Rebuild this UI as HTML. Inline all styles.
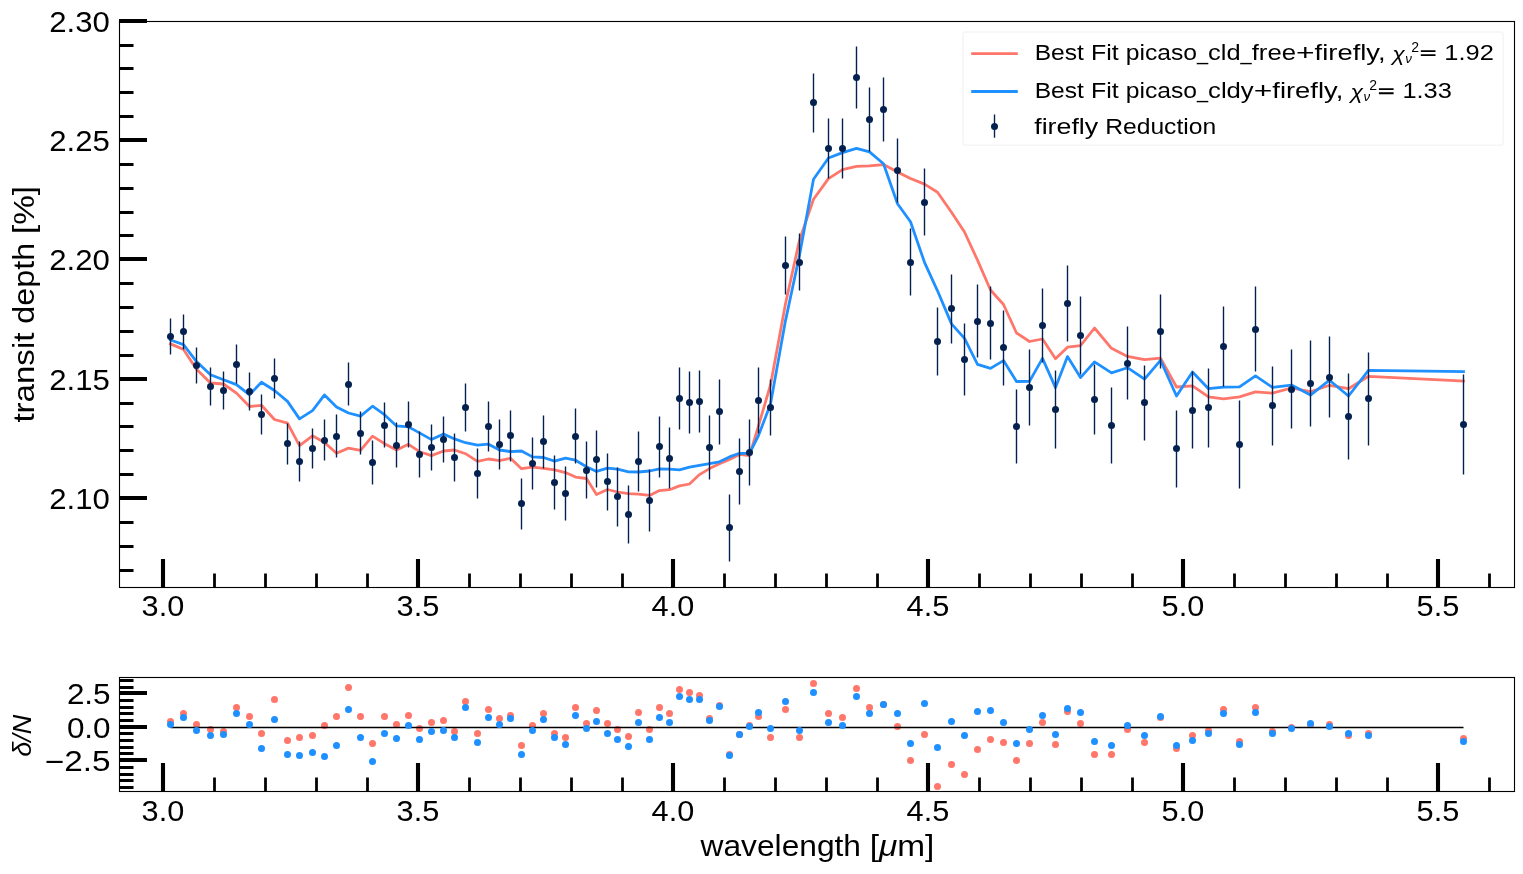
<!DOCTYPE html><html><head><meta charset="utf-8"><title>chart</title><style>html,body{margin:0;padding:0;background:#fff}svg{display:block;will-change:transform}</style></head><body><svg width="1523" height="874" viewBox="0 0 1523 874">
<rect width="1523" height="874" fill="#fff"/>
<g fill="none" stroke-width="2.78" stroke-linejoin="round" stroke-linecap="square">
<polyline stroke="#FF766A" points="170.5,343.9 183.5,349.4 196.5,369.2 210.5,383.0 223.5,384.0 236.5,393.1 249.5,406.5 261.5,405.3 274.5,419.5 287.5,423.2 299.5,445.7 312.5,435.8 324.5,442.5 336.5,453.2 348.5,448.1 360.5,450.4 372.5,436.1 384.5,443.7 396.5,450.1 408.5,444.3 419.5,451.7 431.5,455.6 443.5,451.0 454.5,450.0 465.5,453.7 477.5,461.3 488.5,459.0 499.5,460.6 510.5,458.2 521.5,468.7 532.5,467.1 543.5,468.4 554.5,469.8 565.5,472.6 575.5,477.1 586.5,478.5 596.5,494.5 607.5,489.5 617.5,492.0 628.5,493.7 638.5,494.2 649.5,495.4 659.5,490.6 669.5,489.7 679.5,485.9 689.5,484.0 699.5,474.6 709.5,468.6 719.5,463.8 729.5,459.4 739.5,454.4 749.5,455.6 758.5,425.8 770.5,384.9 785.5,303.8 799.5,240.1 813.5,199.3 828.5,178.6 842.5,169.6 856.5,166.4 869.5,165.9 883.5,164.6 897.5,172.0 910.5,178.5 924.5,184.1 937.5,192.3 951.5,212.2 964.5,232.0 977.5,260.2 990.5,290.0 1003.5,304.5 1016.5,333.0 1029.5,341.5 1042.5,339.0 1055.5,358.7 1067.5,347.2 1080.5,345.6 1094.5,328.0 1111.5,348.3 1127.5,356.4 1144.5,359.6 1160.5,358.1 1176.5,387.0 1192.5,385.8 1208.5,396.9 1223.5,398.8 1239.5,396.8 1255.5,391.8 1272.5,393.2 1291.5,388.0 1310.5,391.7 1329.5,385.3 1348.5,388.7 1368.5,376.3 1463.5,381.0"/>
<polyline stroke="#1E90FF" points="170.5,340.0 183.5,344.6 196.5,361.6 210.5,374.8 223.5,379.8 236.5,384.6 249.5,394.8 261.5,382.3 274.5,390.5 287.5,401.4 299.5,418.9 312.5,410.6 324.5,394.9 336.5,407.0 348.5,413.0 360.5,416.1 372.5,406.2 384.5,414.7 396.5,425.9 408.5,426.9 419.5,432.9 431.5,439.6 443.5,434.0 454.5,438.9 465.5,442.7 477.5,445.2 488.5,444.2 499.5,450.0 510.5,451.6 521.5,451.0 532.5,456.9 543.5,457.5 554.5,461.1 565.5,458.1 575.5,460.2 586.5,466.8 596.5,471.4 607.5,468.2 617.5,469.1 628.5,471.8 638.5,472.0 649.5,471.0 659.5,468.9 669.5,469.1 679.5,469.9 689.5,467.2 699.5,465.3 709.5,463.6 719.5,461.8 729.5,456.9 739.5,453.3 749.5,453.3 758.5,435.5 770.5,404.1 785.5,320.6 799.5,255.3 813.5,179.2 828.5,158.0 842.5,152.6 856.5,148.4 869.5,151.9 883.5,163.8 897.5,203.7 910.5,221.8 924.5,262.3 937.5,290.8 951.5,323.9 964.5,338.4 977.5,364.4 990.5,368.4 1003.5,360.6 1016.5,381.5 1029.5,381.4 1042.5,358.4 1055.5,387.6 1067.5,356.6 1080.5,377.6 1094.5,361.9 1111.5,372.9 1127.5,367.7 1144.5,379.2 1160.5,360.3 1176.5,396.0 1192.5,372.0 1208.5,388.7 1223.5,387.1 1239.5,386.9 1255.5,375.8 1272.5,387.4 1291.5,385.1 1310.5,395.1 1329.5,380.2 1348.5,396.0 1368.5,370.3 1463.5,371.7"/>
</g>
<path d="M170.5 318.5V354.5M183.5 314.5V349.5M196.5 347.5V383.5M210.5 367.5V405.5M223.5 371.5V409.5M236.5 344.5V383.5M249.5 372.5V410.5M261.5 394.5V434.5M274.5 358.5V398.5M287.5 423.5V464.5M299.5 441.5V481.5M312.5 428.5V468.5M324.5 419.5V460.5M336.5 414.5V457.5M348.5 362.5V405.5M360.5 411.5V454.5M372.5 440.5V484.5M384.5 402.5V447.5M396.5 422.5V467.5M408.5 401.5V447.5M419.5 431.5V477.5M431.5 424.5V470.5M443.5 416.5V462.5M454.5 433.5V481.5M465.5 383.5V431.5M477.5 448.5V498.5M488.5 401.5V451.5M499.5 419.5V469.5M510.5 410.5V461.5M521.5 478.5V529.5M532.5 437.5V489.5M543.5 415.5V468.5M554.5 455.5V509.5M565.5 466.5V520.5M575.5 408.5V463.5M586.5 441.5V498.5M596.5 430.5V487.5M607.5 453.5V510.5M617.5 467.5V526.5M628.5 485.5V543.5M638.5 431.5V491.5M649.5 469.5V531.5M659.5 416.5V477.5M669.5 427.5V488.5M679.5 367.5V429.5M689.5 371.5V433.5M699.5 370.5V432.5M709.5 415.5V479.5M719.5 379.5V444.5M729.5 494.5V561.5M739.5 438.5V504.5M749.5 419.5V485.5M758.5 367.5V433.5M770.5 379.5V435.5M785.5 236.5V294.5M799.5 233.5V290.5M813.5 73.5V132.5M828.5 118.5V178.5M842.5 118.5V178.5M856.5 46.5V108.5M869.5 87.5V151.5M883.5 77.5V141.5M897.5 138.5V202.5M910.5 228.5V295.5M924.5 168.5V235.5M937.5 307.5V375.5M951.5 274.5V343.5M964.5 323.5V395.5M977.5 284.5V357.5M990.5 286.5V359.5M1003.5 310.5V385.5M1016.5 389.5V463.5M1029.5 349.5V425.5M1042.5 288.5V362.5M1055.5 370.5V448.5M1067.5 265.5V341.5M1080.5 296.5V374.5M1094.5 364.5V434.5M1111.5 387.5V463.5M1127.5 326.5V399.5M1144.5 365.5V440.5M1160.5 294.5V368.5M1176.5 410.5V487.5M1192.5 371.5V448.5M1208.5 368.5V447.5M1223.5 306.5V386.5M1239.5 400.5V488.5M1255.5 286.5V371.5M1272.5 366.5V445.5M1291.5 349.5V428.5M1310.5 340.5V426.5M1329.5 336.5V417.5M1348.5 373.5V459.5M1368.5 352.5V445.5M1463.5 374.5V474.5" stroke="#03204f" stroke-width="1.39" fill="none"/>
<g fill="#03204f"><circle cx="170.5" cy="336.5" r="3.5"/><circle cx="183.5" cy="331.5" r="3.5"/><circle cx="196.5" cy="365.5" r="3.5"/><circle cx="210.5" cy="386.5" r="3.5"/><circle cx="223.5" cy="390.5" r="3.5"/><circle cx="236.5" cy="364.5" r="3.5"/><circle cx="249.5" cy="391.5" r="3.5"/><circle cx="261.5" cy="414.5" r="3.5"/><circle cx="274.5" cy="378.5" r="3.5"/><circle cx="287.5" cy="443.5" r="3.5"/><circle cx="299.5" cy="461.5" r="3.5"/><circle cx="312.5" cy="448.5" r="3.5"/><circle cx="324.5" cy="440.5" r="3.5"/><circle cx="336.5" cy="436.5" r="3.5"/><circle cx="348.5" cy="384.5" r="3.5"/><circle cx="360.5" cy="433.5" r="3.5"/><circle cx="372.5" cy="462.5" r="3.5"/><circle cx="384.5" cy="425.5" r="3.5"/><circle cx="396.5" cy="445.5" r="3.5"/><circle cx="408.5" cy="424.5" r="3.5"/><circle cx="419.5" cy="454.5" r="3.5"/><circle cx="431.5" cy="447.5" r="3.5"/><circle cx="443.5" cy="439.5" r="3.5"/><circle cx="454.5" cy="457.5" r="3.5"/><circle cx="465.5" cy="407.5" r="3.5"/><circle cx="477.5" cy="473.5" r="3.5"/><circle cx="488.5" cy="426.5" r="3.5"/><circle cx="499.5" cy="444.5" r="3.5"/><circle cx="510.5" cy="435.5" r="3.5"/><circle cx="521.5" cy="503.5" r="3.5"/><circle cx="532.5" cy="463.5" r="3.5"/><circle cx="543.5" cy="441.5" r="3.5"/><circle cx="554.5" cy="482.5" r="3.5"/><circle cx="565.5" cy="493.5" r="3.5"/><circle cx="575.5" cy="436.5" r="3.5"/><circle cx="586.5" cy="470.5" r="3.5"/><circle cx="596.5" cy="459.5" r="3.5"/><circle cx="607.5" cy="481.5" r="3.5"/><circle cx="617.5" cy="496.5" r="3.5"/><circle cx="628.5" cy="514.5" r="3.5"/><circle cx="638.5" cy="461.5" r="3.5"/><circle cx="649.5" cy="500.5" r="3.5"/><circle cx="659.5" cy="446.5" r="3.5"/><circle cx="669.5" cy="458.5" r="3.5"/><circle cx="679.5" cy="398.5" r="3.5"/><circle cx="689.5" cy="402.5" r="3.5"/><circle cx="699.5" cy="401.5" r="3.5"/><circle cx="709.5" cy="447.5" r="3.5"/><circle cx="719.5" cy="411.5" r="3.5"/><circle cx="729.5" cy="527.5" r="3.5"/><circle cx="739.5" cy="471.5" r="3.5"/><circle cx="749.5" cy="452.5" r="3.5"/><circle cx="758.5" cy="400.5" r="3.5"/><circle cx="770.5" cy="407.5" r="3.5"/><circle cx="785.5" cy="265.5" r="3.5"/><circle cx="799.5" cy="262.5" r="3.5"/><circle cx="813.5" cy="102.5" r="3.5"/><circle cx="828.5" cy="148.5" r="3.5"/><circle cx="842.5" cy="148.5" r="3.5"/><circle cx="856.5" cy="77.5" r="3.5"/><circle cx="869.5" cy="119.5" r="3.5"/><circle cx="883.5" cy="109.5" r="3.5"/><circle cx="897.5" cy="170.5" r="3.5"/><circle cx="910.5" cy="262.5" r="3.5"/><circle cx="924.5" cy="202.5" r="3.5"/><circle cx="937.5" cy="341.5" r="3.5"/><circle cx="951.5" cy="308.5" r="3.5"/><circle cx="964.5" cy="359.5" r="3.5"/><circle cx="977.5" cy="321.5" r="3.5"/><circle cx="990.5" cy="323.5" r="3.5"/><circle cx="1003.5" cy="347.5" r="3.5"/><circle cx="1016.5" cy="426.5" r="3.5"/><circle cx="1029.5" cy="387.5" r="3.5"/><circle cx="1042.5" cy="325.5" r="3.5"/><circle cx="1055.5" cy="409.5" r="3.5"/><circle cx="1067.5" cy="303.5" r="3.5"/><circle cx="1080.5" cy="335.5" r="3.5"/><circle cx="1094.5" cy="399.5" r="3.5"/><circle cx="1111.5" cy="425.5" r="3.5"/><circle cx="1127.5" cy="363.5" r="3.5"/><circle cx="1144.5" cy="402.5" r="3.5"/><circle cx="1160.5" cy="331.5" r="3.5"/><circle cx="1176.5" cy="448.5" r="3.5"/><circle cx="1192.5" cy="410.5" r="3.5"/><circle cx="1208.5" cy="407.5" r="3.5"/><circle cx="1223.5" cy="346.5" r="3.5"/><circle cx="1239.5" cy="444.5" r="3.5"/><circle cx="1255.5" cy="329.5" r="3.5"/><circle cx="1272.5" cy="405.5" r="3.5"/><circle cx="1291.5" cy="389.5" r="3.5"/><circle cx="1310.5" cy="383.5" r="3.5"/><circle cx="1329.5" cy="377.5" r="3.5"/><circle cx="1348.5" cy="416.5" r="3.5"/><circle cx="1368.5" cy="398.5" r="3.5"/><circle cx="1463.5" cy="424.5" r="3.5"/></g>
<g fill="#FF766A"><circle cx="170.5" cy="721.5" r="3.5"/><circle cx="183.5" cy="713.5" r="3.5"/><circle cx="196.5" cy="724.5" r="3.5"/><circle cx="210.5" cy="729.5" r="3.5"/><circle cx="223.5" cy="731.5" r="3.5"/><circle cx="236.5" cy="707.5" r="3.5"/><circle cx="249.5" cy="716.5" r="3.5"/><circle cx="261.5" cy="733.5" r="3.5"/><circle cx="274.5" cy="699.5" r="3.5"/><circle cx="287.5" cy="740.5" r="3.5"/><circle cx="299.5" cy="737.5" r="3.5"/><circle cx="312.5" cy="735.5" r="3.5"/><circle cx="324.5" cy="725.5" r="3.5"/><circle cx="336.5" cy="716.5" r="3.5"/><circle cx="348.5" cy="687.5" r="3.5"/><circle cx="360.5" cy="716.5" r="3.5"/><circle cx="372.5" cy="743.5" r="3.5"/><circle cx="384.5" cy="716.5" r="3.5"/><circle cx="396.5" cy="724.5" r="3.5"/><circle cx="408.5" cy="715.5" r="3.5"/><circle cx="419.5" cy="728.5" r="3.5"/><circle cx="431.5" cy="722.5" r="3.5"/><circle cx="443.5" cy="720.5" r="3.5"/><circle cx="454.5" cy="731.5" r="3.5"/><circle cx="465.5" cy="701.5" r="3.5"/><circle cx="477.5" cy="733.5" r="3.5"/><circle cx="488.5" cy="709.5" r="3.5"/><circle cx="499.5" cy="718.5" r="3.5"/><circle cx="510.5" cy="715.5" r="3.5"/><circle cx="521.5" cy="745.5" r="3.5"/><circle cx="532.5" cy="725.5" r="3.5"/><circle cx="543.5" cy="713.5" r="3.5"/><circle cx="554.5" cy="733.5" r="3.5"/><circle cx="565.5" cy="737.5" r="3.5"/><circle cx="575.5" cy="707.5" r="3.5"/><circle cx="586.5" cy="723.5" r="3.5"/><circle cx="596.5" cy="710.5" r="3.5"/><circle cx="607.5" cy="723.5" r="3.5"/><circle cx="617.5" cy="729.5" r="3.5"/><circle cx="628.5" cy="736.5" r="3.5"/><circle cx="638.5" cy="712.5" r="3.5"/><circle cx="649.5" cy="729.5" r="3.5"/><circle cx="659.5" cy="707.5" r="3.5"/><circle cx="669.5" cy="713.5" r="3.5"/><circle cx="679.5" cy="689.5" r="3.5"/><circle cx="689.5" cy="692.5" r="3.5"/><circle cx="699.5" cy="695.5" r="3.5"/><circle cx="709.5" cy="718.5" r="3.5"/><circle cx="719.5" cy="705.5" r="3.5"/><circle cx="729.5" cy="754.5" r="3.5"/><circle cx="739.5" cy="734.5" r="3.5"/><circle cx="749.5" cy="725.5" r="3.5"/><circle cx="758.5" cy="716.5" r="3.5"/><circle cx="770.5" cy="737.5" r="3.5"/><circle cx="785.5" cy="709.5" r="3.5"/><circle cx="799.5" cy="737.5" r="3.5"/><circle cx="813.5" cy="683.5" r="3.5"/><circle cx="828.5" cy="713.5" r="3.5"/><circle cx="842.5" cy="717.5" r="3.5"/><circle cx="856.5" cy="688.5" r="3.5"/><circle cx="869.5" cy="707.5" r="3.5"/><circle cx="883.5" cy="704.5" r="3.5"/><circle cx="897.5" cy="726.5" r="3.5"/><circle cx="910.5" cy="760.5" r="3.5"/><circle cx="924.5" cy="734.5" r="3.5"/><circle cx="937.5" cy="786.5" r="3.5"/><circle cx="951.5" cy="764.5" r="3.5"/><circle cx="964.5" cy="774.5" r="3.5"/><circle cx="977.5" cy="749.5" r="3.5"/><circle cx="990.5" cy="739.5" r="3.5"/><circle cx="1003.5" cy="742.5" r="3.5"/><circle cx="1016.5" cy="760.5" r="3.5"/><circle cx="1029.5" cy="743.5" r="3.5"/><circle cx="1042.5" cy="722.5" r="3.5"/><circle cx="1055.5" cy="744.5" r="3.5"/><circle cx="1067.5" cy="711.5" r="3.5"/><circle cx="1080.5" cy="723.5" r="3.5"/><circle cx="1094.5" cy="754.5" r="3.5"/><circle cx="1111.5" cy="754.5" r="3.5"/><circle cx="1127.5" cy="729.5" r="3.5"/><circle cx="1144.5" cy="742.5" r="3.5"/><circle cx="1160.5" cy="717.5" r="3.5"/><circle cx="1176.5" cy="748.5" r="3.5"/><circle cx="1192.5" cy="735.5" r="3.5"/><circle cx="1208.5" cy="730.5" r="3.5"/><circle cx="1223.5" cy="709.5" r="3.5"/><circle cx="1239.5" cy="741.5" r="3.5"/><circle cx="1255.5" cy="707.5" r="3.5"/><circle cx="1272.5" cy="731.5" r="3.5"/><circle cx="1291.5" cy="727.5" r="3.5"/><circle cx="1310.5" cy="724.5" r="3.5"/><circle cx="1329.5" cy="724.5" r="3.5"/><circle cx="1348.5" cy="735.5" r="3.5"/><circle cx="1368.5" cy="733.5" r="3.5"/><circle cx="1463.5" cy="738.5" r="3.5"/></g>
<path d="M170.5 727.5H1463.5" stroke="#000" stroke-width="1.3"/>
<g fill="#1E90FF"><circle cx="170.5" cy="724.5" r="3.5"/><circle cx="183.5" cy="717.5" r="3.5"/><circle cx="196.5" cy="730.5" r="3.5"/><circle cx="210.5" cy="735.5" r="3.5"/><circle cx="223.5" cy="734.5" r="3.5"/><circle cx="236.5" cy="713.5" r="3.5"/><circle cx="249.5" cy="724.5" r="3.5"/><circle cx="261.5" cy="748.5" r="3.5"/><circle cx="274.5" cy="719.5" r="3.5"/><circle cx="287.5" cy="754.5" r="3.5"/><circle cx="299.5" cy="755.5" r="3.5"/><circle cx="312.5" cy="752.5" r="3.5"/><circle cx="324.5" cy="756.5" r="3.5"/><circle cx="336.5" cy="745.5" r="3.5"/><circle cx="348.5" cy="709.5" r="3.5"/><circle cx="360.5" cy="737.5" r="3.5"/><circle cx="372.5" cy="761.5" r="3.5"/><circle cx="384.5" cy="733.5" r="3.5"/><circle cx="396.5" cy="738.5" r="3.5"/><circle cx="408.5" cy="725.5" r="3.5"/><circle cx="419.5" cy="739.5" r="3.5"/><circle cx="431.5" cy="731.5" r="3.5"/><circle cx="443.5" cy="730.5" r="3.5"/><circle cx="454.5" cy="737.5" r="3.5"/><circle cx="465.5" cy="707.5" r="3.5"/><circle cx="477.5" cy="742.5" r="3.5"/><circle cx="488.5" cy="717.5" r="3.5"/><circle cx="499.5" cy="724.5" r="3.5"/><circle cx="510.5" cy="718.5" r="3.5"/><circle cx="521.5" cy="754.5" r="3.5"/><circle cx="532.5" cy="730.5" r="3.5"/><circle cx="543.5" cy="719.5" r="3.5"/><circle cx="554.5" cy="737.5" r="3.5"/><circle cx="565.5" cy="744.5" r="3.5"/><circle cx="575.5" cy="715.5" r="3.5"/><circle cx="586.5" cy="728.5" r="3.5"/><circle cx="596.5" cy="721.5" r="3.5"/><circle cx="607.5" cy="733.5" r="3.5"/><circle cx="617.5" cy="739.5" r="3.5"/><circle cx="628.5" cy="746.5" r="3.5"/><circle cx="638.5" cy="722.5" r="3.5"/><circle cx="649.5" cy="739.5" r="3.5"/><circle cx="659.5" cy="717.5" r="3.5"/><circle cx="669.5" cy="722.5" r="3.5"/><circle cx="679.5" cy="696.5" r="3.5"/><circle cx="689.5" cy="699.5" r="3.5"/><circle cx="699.5" cy="699.5" r="3.5"/><circle cx="709.5" cy="720.5" r="3.5"/><circle cx="719.5" cy="706.5" r="3.5"/><circle cx="729.5" cy="755.5" r="3.5"/><circle cx="739.5" cy="734.5" r="3.5"/><circle cx="749.5" cy="726.5" r="3.5"/><circle cx="758.5" cy="712.5" r="3.5"/><circle cx="770.5" cy="728.5" r="3.5"/><circle cx="785.5" cy="701.5" r="3.5"/><circle cx="799.5" cy="730.5" r="3.5"/><circle cx="813.5" cy="692.5" r="3.5"/><circle cx="828.5" cy="722.5" r="3.5"/><circle cx="842.5" cy="725.5" r="3.5"/><circle cx="856.5" cy="696.5" r="3.5"/><circle cx="869.5" cy="713.5" r="3.5"/><circle cx="883.5" cy="704.5" r="3.5"/><circle cx="897.5" cy="713.5" r="3.5"/><circle cx="910.5" cy="743.5" r="3.5"/><circle cx="924.5" cy="703.5" r="3.5"/><circle cx="937.5" cy="747.5" r="3.5"/><circle cx="951.5" cy="721.5" r="3.5"/><circle cx="964.5" cy="735.5" r="3.5"/><circle cx="977.5" cy="711.5" r="3.5"/><circle cx="990.5" cy="710.5" r="3.5"/><circle cx="1003.5" cy="722.5" r="3.5"/><circle cx="1016.5" cy="743.5" r="3.5"/><circle cx="1029.5" cy="729.5" r="3.5"/><circle cx="1042.5" cy="715.5" r="3.5"/><circle cx="1055.5" cy="734.5" r="3.5"/><circle cx="1067.5" cy="708.5" r="3.5"/><circle cx="1080.5" cy="712.5" r="3.5"/><circle cx="1094.5" cy="741.5" r="3.5"/><circle cx="1111.5" cy="745.5" r="3.5"/><circle cx="1127.5" cy="725.5" r="3.5"/><circle cx="1144.5" cy="735.5" r="3.5"/><circle cx="1160.5" cy="716.5" r="3.5"/><circle cx="1176.5" cy="745.5" r="3.5"/><circle cx="1192.5" cy="740.5" r="3.5"/><circle cx="1208.5" cy="733.5" r="3.5"/><circle cx="1223.5" cy="713.5" r="3.5"/><circle cx="1239.5" cy="744.5" r="3.5"/><circle cx="1255.5" cy="712.5" r="3.5"/><circle cx="1272.5" cy="733.5" r="3.5"/><circle cx="1291.5" cy="728.5" r="3.5"/><circle cx="1310.5" cy="723.5" r="3.5"/><circle cx="1329.5" cy="726.5" r="3.5"/><circle cx="1348.5" cy="733.5" r="3.5"/><circle cx="1368.5" cy="735.5" r="3.5"/><circle cx="1463.5" cy="741.5" r="3.5"/></g>
<path d="M119.0 21.0h28M119.0 140.0h28M119.0 259.0h28M119.0 379.0h28M119.0 498.0h28M163.0 588.0v-29M418.0 588.0v-29M673.0 588.0v-29M928.0 588.0v-29M1183.0 588.0v-29M1438.0 588.0v-29M119.0 760.0h28M119.0 727.0h28M119.0 693.0h28M163.0 792.0v-29M418.0 792.0v-29M673.0 792.0v-29M928.0 792.0v-29M1183.0 792.0v-29M1438.0 792.0v-29" stroke="#000" stroke-width="4.1" fill="none"/>
<path d="M119.0 45.5h14.5M119.0 68.5h14.5M119.0 92.5h14.5M119.0 116.5h14.5M119.0 164.5h14.5M119.0 188.5h14.5M119.0 212.5h14.5M119.0 235.5h14.5M119.0 283.5h14.5M119.0 307.5h14.5M119.0 331.5h14.5M119.0 355.5h14.5M119.0 403.5h14.5M119.0 426.5h14.5M119.0 450.5h14.5M119.0 474.5h14.5M119.0 522.5h14.5M119.0 546.5h14.5M119.0 570.5h14.5M214.5 588.0v-14.6M265.5 588.0v-14.6M316.5 588.0v-14.6M367.5 588.0v-14.6M469.5 588.0v-14.6M520.5 588.0v-14.6M571.5 588.0v-14.6M622.5 588.0v-14.6M724.5 588.0v-14.6M775.5 588.0v-14.6M826.5 588.0v-14.6M877.5 588.0v-14.6M979.5 588.0v-14.6M1030.5 588.0v-14.6M1081.5 588.0v-14.6M1132.5 588.0v-14.6M1234.5 588.0v-14.6M1285.5 588.0v-14.6M1336.5 588.0v-14.6M1387.5 588.0v-14.6M1489.5 588.0v-14.6M119.0 787.5h14.5M119.0 780.5h14.5M119.0 774.5h14.5M119.0 767.5h14.5M119.0 753.5h14.5M119.0 747.5h14.5M119.0 740.5h14.5M119.0 733.5h14.5M119.0 720.5h14.5M119.0 713.5h14.5M119.0 707.5h14.5M119.0 700.5h14.5M119.0 687.5h14.5M119.0 680.5h14.5M214.5 792.0v-14.6M265.5 792.0v-14.6M316.5 792.0v-14.6M367.5 792.0v-14.6M469.5 792.0v-14.6M520.5 792.0v-14.6M571.5 792.0v-14.6M622.5 792.0v-14.6M724.5 792.0v-14.6M775.5 792.0v-14.6M826.5 792.0v-14.6M877.5 792.0v-14.6M979.5 792.0v-14.6M1030.5 792.0v-14.6M1081.5 792.0v-14.6M1132.5 792.0v-14.6M1234.5 792.0v-14.6M1285.5 792.0v-14.6M1336.5 792.0v-14.6M1387.5 792.0v-14.6M1489.5 792.0v-14.6" stroke="#000" stroke-width="2.78" fill="none"/>
<rect x="119.5" y="21.5" width="1395.0" height="566.0" fill="none" stroke="#000" stroke-width="1.11"/>
<rect x="119.5" y="677.5" width="1395.0" height="114.0" fill="none" stroke="#000" stroke-width="1.11"/>
<g font-family="Liberation Sans, sans-serif" fill="#000">
<text x="49.3" y="31.6" font-size="30.3" text-anchor="start" textLength="60.6" lengthAdjust="spacingAndGlyphs">2.30</text>
<text x="49.3" y="150.9" font-size="30.3" text-anchor="start" textLength="60.6" lengthAdjust="spacingAndGlyphs">2.25</text>
<text x="49.3" y="270.2" font-size="30.3" text-anchor="start" textLength="60.6" lengthAdjust="spacingAndGlyphs">2.20</text>
<text x="49.3" y="389.5" font-size="30.3" text-anchor="start" textLength="60.6" lengthAdjust="spacingAndGlyphs">2.15</text>
<text x="49.3" y="508.8" font-size="30.3" text-anchor="start" textLength="60.6" lengthAdjust="spacingAndGlyphs">2.10</text>
<text x="141.6" y="616.3" font-size="30.3" text-anchor="start" textLength="42.6" lengthAdjust="spacingAndGlyphs">3.0</text>
<text x="141.6" y="820.7" font-size="30.3" text-anchor="start" textLength="42.6" lengthAdjust="spacingAndGlyphs">3.0</text>
<text x="396.6" y="616.3" font-size="30.3" text-anchor="start" textLength="42.6" lengthAdjust="spacingAndGlyphs">3.5</text>
<text x="396.6" y="820.7" font-size="30.3" text-anchor="start" textLength="42.6" lengthAdjust="spacingAndGlyphs">3.5</text>
<text x="651.6" y="616.3" font-size="30.3" text-anchor="start" textLength="42.6" lengthAdjust="spacingAndGlyphs">4.0</text>
<text x="651.6" y="820.7" font-size="30.3" text-anchor="start" textLength="42.6" lengthAdjust="spacingAndGlyphs">4.0</text>
<text x="906.6" y="616.3" font-size="30.3" text-anchor="start" textLength="42.6" lengthAdjust="spacingAndGlyphs">4.5</text>
<text x="906.6" y="820.7" font-size="30.3" text-anchor="start" textLength="42.6" lengthAdjust="spacingAndGlyphs">4.5</text>
<text x="1161.6" y="616.3" font-size="30.3" text-anchor="start" textLength="42.6" lengthAdjust="spacingAndGlyphs">5.0</text>
<text x="1161.6" y="820.7" font-size="30.3" text-anchor="start" textLength="42.6" lengthAdjust="spacingAndGlyphs">5.0</text>
<text x="1416.6" y="616.3" font-size="30.3" text-anchor="start" textLength="42.6" lengthAdjust="spacingAndGlyphs">5.5</text>
<text x="1416.6" y="820.7" font-size="30.3" text-anchor="start" textLength="42.6" lengthAdjust="spacingAndGlyphs">5.5</text>
<text x="66.9" y="704.2" font-size="30.3" text-anchor="start" textLength="43.7" lengthAdjust="spacingAndGlyphs">2.5</text>
<text x="66.9" y="737.6" font-size="30.3" text-anchor="start" textLength="43.7" lengthAdjust="spacingAndGlyphs">0.0</text>
<text x="44.9" y="771.0" font-size="30.3" text-anchor="start" textLength="65.7" lengthAdjust="spacingAndGlyphs"><tspan dy="0.9">−</tspan><tspan dy="-0.9">2.5</tspan></text>
<g transform="translate(34.0,304.3) rotate(-90)" font-size="28.9"><text x="-118.31" y="0" textLength="90.03" lengthAdjust="spacingAndGlyphs">transit</text><text x="-19.45" y="0" textLength="80.86" lengthAdjust="spacingAndGlyphs">depth</text><text x="70.24" y="0" textLength="48.07" lengthAdjust="spacingAndGlyphs">[%]</text></g>
<text x="700.6" y="855.6" font-size="28.9" textLength="160.4" lengthAdjust="spacingAndGlyphs">wavelength</text>
<text x="869.7" y="855.6" font-size="28.9" textLength="64.7" lengthAdjust="spacingAndGlyphs">[<tspan font-style="italic">μ</tspan>m]</text>
<text transform="translate(30.7,735.8) rotate(-90)" text-anchor="middle" font-size="26.1" font-style="italic" textLength="42" lengthAdjust="spacingAndGlyphs">δ/N</text>
</g>
<rect x="963" y="32" width="540.2" height="113.3" rx="2.8" fill="#fff" stroke="#f5f5f5" stroke-width="1.5"/>
<path d="M971.2 53.6H1017.8" stroke="#FF766A" stroke-width="2.78"/>
<path d="M971.2 91.5H1017.8" stroke="#1E90FF" stroke-width="2.78"/>
<path d="M994.5 114.5V137.7" stroke="#03204f" stroke-width="1.39"/><circle cx="994.5" cy="126.4" r="3.5" fill="#03204f"/>
<g font-family="Liberation Sans, sans-serif" fill="#000" font-size="21.8">
<text x="1034.7" y="60.2" font-size="21.8" text-anchor="start" textLength="49.2" lengthAdjust="spacingAndGlyphs">Best</text><text x="1091.0" y="60.2" font-size="21.8" text-anchor="start" textLength="27.7" lengthAdjust="spacingAndGlyphs">Fit</text><text x="1125.7" y="60.2" font-size="21.8" text-anchor="start" textLength="71.3" lengthAdjust="spacingAndGlyphs">picaso</text><text x="1197.0" y="60.2" font-size="21.8" text-anchor="start" textLength="11.1" lengthAdjust="spacingAndGlyphs">_</text><text x="1208.1" y="60.2" font-size="21.8" text-anchor="start" textLength="32.5" lengthAdjust="spacingAndGlyphs">cld</text><text x="1240.6" y="60.2" font-size="21.8" text-anchor="start" textLength="11.1" lengthAdjust="spacingAndGlyphs">_</text><text x="1251.7" y="60.2" font-size="21.8" text-anchor="start" textLength="44.3" lengthAdjust="spacingAndGlyphs">free</text><text x="1296.0" y="60.2" font-size="21.8" text-anchor="start" textLength="18.6" lengthAdjust="spacingAndGlyphs">+</text><text x="1314.6" y="60.2" font-size="21.8" text-anchor="start" textLength="71.0" lengthAdjust="spacingAndGlyphs">firefly,</text><text x="1392.3" y="60.8" font-style="italic" font-size="19.4" textLength="12.6" lengthAdjust="spacingAndGlyphs">χ</text><text x="1405.3" y="63.2" font-style="italic" font-size="13.2">ν</text><text x="1411.2" y="51.8" font-size="14.6" textLength="7.8" lengthAdjust="spacingAndGlyphs">2</text><path d="M1420.8 51.1h14.7M1420.8 55.1h14.7" stroke="#000" stroke-width="1.95" fill="none"/><text x="1444.3" y="60.2" font-size="21.8" text-anchor="start" textLength="49.5" lengthAdjust="spacingAndGlyphs">1.92</text>
<text x="1034.7" y="98.3" font-size="21.8" text-anchor="start" textLength="49.2" lengthAdjust="spacingAndGlyphs">Best</text><text x="1091.0" y="98.3" font-size="21.8" text-anchor="start" textLength="27.7" lengthAdjust="spacingAndGlyphs">Fit</text><text x="1125.7" y="98.3" font-size="21.8" text-anchor="start" textLength="71.3" lengthAdjust="spacingAndGlyphs">picaso</text><text x="1197.0" y="98.3" font-size="21.8" text-anchor="start" textLength="11.1" lengthAdjust="spacingAndGlyphs">_</text><text x="1208.1" y="98.3" font-size="21.8" text-anchor="start" textLength="45.6" lengthAdjust="spacingAndGlyphs">cldy</text><text x="1253.7" y="98.3" font-size="21.8" text-anchor="start" textLength="18.6" lengthAdjust="spacingAndGlyphs">+</text><text x="1272.3" y="98.3" font-size="21.8" text-anchor="start" textLength="71.0" lengthAdjust="spacingAndGlyphs">firefly,</text><text x="1350.4" y="98.9" font-style="italic" font-size="19.4" textLength="12.6" lengthAdjust="spacingAndGlyphs">χ</text><text x="1363.4" y="101.3" font-style="italic" font-size="13.2">ν</text><text x="1369.3" y="89.9" font-size="14.6" textLength="7.8" lengthAdjust="spacingAndGlyphs">2</text><path d="M1378.9 89.1h14.7M1378.9 93.2h14.7" stroke="#000" stroke-width="1.95" fill="none"/><text x="1402.4" y="98.3" font-size="21.8" text-anchor="start" textLength="49.5" lengthAdjust="spacingAndGlyphs">1.33</text>
<text x="1034.2" y="133.9" font-size="21.8" text-anchor="start" textLength="64.0" lengthAdjust="spacingAndGlyphs">firefly</text>
<text x="1105.2" y="133.9" font-size="21.8" text-anchor="start" textLength="111.0" lengthAdjust="spacingAndGlyphs">Reduction</text>
</g>
</svg></body></html>
